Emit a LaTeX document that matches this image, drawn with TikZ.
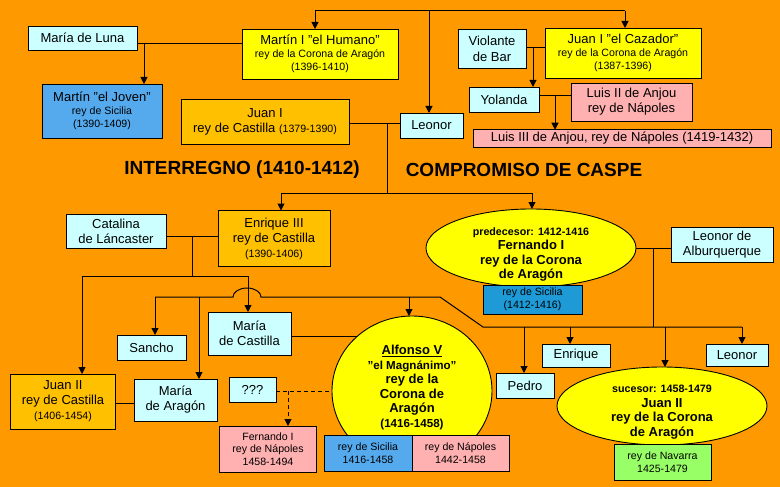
\documentclass[tikz,border=0pt]{standalone}
\usepackage{fontspec}
\setmainfont{Liberation Sans}
\usetikzlibrary{arrows.meta,shapes.geometric}
\pgfdeclarelayer{bg}
\pgfsetlayers{bg,main}
\definecolor{bgor}{HTML}{FF9900}
\definecolor{cyB}{HTML}{CCFFFF}
\definecolor{yeB}{HTML}{FFFF00}
\definecolor{orB}{HTML}{FFC000}
\definecolor{blB}{HTML}{55AAEE}
\definecolor{blD}{HTML}{1E9BD7}
\definecolor{piB}{HTML}{FFB0B0}
\definecolor{grB}{HTML}{99FF66}
\newcommand\fA{\fontsize{13}{15}\selectfont}
\newcommand\fB{\fontsize{10.6}{13}\selectfont}
\newcommand\fE{\fontsize{13}{14.5}\selectfont\bfseries}
\newcommand\fS{\fontsize{10.7}{14.5}\selectfont\bfseries}
\newcommand\fM{\fontsize{11.6}{14.5}\selectfont\bfseries}
\newcommand\fT{\fontsize{19}{20}\selectfont\bfseries}
\begin{document}
\begin{tikzpicture}[x=1pt,y=-1pt,
  box/.style={draw=black,line width=0.9pt,inner sep=0pt,outer sep=0pt,align=center,font=\fA},
  ell/.style={ellipse,draw=black,line width=0.9pt,fill=yeB,inner sep=0pt,outer sep=0pt},
  etxt/.style={align=center,inner sep=0pt,font=\fE},
  title/.style={inner sep=0pt,font=\fT},
  conn/.style={line width=1pt},
  arr/.style={-{Triangle[length=7pt,width=7pt]}},
  dsh/.style={dash pattern=on 4pt off 3pt}]
\useasboundingbox (0,0) rectangle (780,487);
\begin{pgfonlayer}{bg}
\fill[bgor] (0,0) rectangle (780,487);
\end{pgfonlayer}

% top generation
\node[box,fill=cyB,minimum width=109,minimum height=24] (luna) at (82.5,38) {María de Luna};
\node[box,fill=yeB,minimum width=156,minimum height=50,font=\fB] (hum) at (320,54) {{\fA Martín I "el Humano"}\\rey de la Corona de Aragón\\(1396-1410)};
\node[box,fill=blB,minimum width=120,minimum height=54,font=\fB] (joven) at (102,111) {{\fA Martín "el Joven"}\\rey de Sicilia\\(1390-1409)};
\node[box,fill=orB,minimum width=168,minimum height=45] (jc) at (265,121.5) {Juan I\\rey de Castilla {\fB (1379-1390)}};
\node[box,fill=cyB,minimum width=63,minimum height=25] (leo1) at (431.5,125.5) {Leonor};
\node[box,fill=cyB,minimum width=68,minimum height=39,font=\fontsize{13}{16}\selectfont] (viol) at (492,48.5) {Violante\\de Bar};
\node[box,fill=yeB,minimum width=156,minimum height=50,font=\fB] (caz) at (623,53) {{\fA Juan I "el Cazador"}\\rey de la Corona de Aragón\\(1387-1396)};
\node[box,fill=cyB,minimum width=70,minimum height=25] (yol) at (504,99.5) {Yolanda};
\node[box,fill=piB,minimum width=121,minimum height=38] (luis2) at (631.5,102) {Luis II de Anjou\\rey de Nápoles};
\node[box,fill=piB,minimum width=298,minimum height=17.5] (luis3) at (622,138.5) {Luis III de Anjou, rey de Nápoles (1419-1432)};

% titles
\node[title] (t1) at (242,170) {INTERREGNO (1410-1412)};
\node[title] (t2) at (524,170) {COMPROMISO DE CASPE};

% middle generation
\node[box,fill=cyB,minimum width=100,minimum height=34] (cat) at (116,231) {Catalina\\de Láncaster};
\node[box,fill=orB,minimum width=112,minimum height=56] (e3) at (274,238.5) {Enrique III\\rey de Castilla\\{\fB (1390-1406)}};
\node[ell,minimum width=210,minimum height=78] (fer) at (531,248) {};
\node[etxt] (fertxt) at (531,254.5) {{\fS predecesor: 1412-1416}\\Fernando I\\rey de la Corona\\de Aragón};
\node[box,fill=blD,minimum width=99,minimum height=29,font=\fB] (fsic) at (532.5,299.5) {rey de Sicilia\\(1412-1416)};
\node[box,fill=cyB,minimum width=102,minimum height=35] (leoalb) at (722,244.5) {Leonor de\\Alburquerque};

% lower generation
\node[box,fill=cyB,minimum width=69,minimum height=25] (sancho) at (151.5,347.5) {Sancho};
\node[box,fill=cyB,minimum width=83,minimum height=43] (mcas) at (249.5,333.5) {María\\de Castilla};
\node[ell,minimum width=160,minimum height=150] (alf) at (412,391) {};
\node[etxt] (alftxt) at (412,387.5) {\underline{Alfonso V}\\{\fM "el Magnánimo"}\\rey de la\\Corona de\\Aragón\\{\fM (1416-1458)}};
\node[box,fill=blB,minimum width=88,minimum height=36,font=\fB] (asic) at (368,453) {rey de Sicilia\\1416-1458};
\node[box,fill=piB,minimum width=97,minimum height=36,font=\fB] (anap) at (460.5,453) {rey de Nápoles\\1442-1458};
\node[box,fill=orB,minimum width=105,minimum height=55] (j2c) at (63,401.5) {Juan II\\rey de Castilla\\{\fB (1406-1454)}};
\node[box,fill=cyB,minimum width=83,minimum height=42] (maragon) at (175.5,400) {María\\de Aragón};
\node[box,fill=cyB,minimum width=47,minimum height=25] (q) at (252.5,389.5) {???};
\node[box,fill=piB,minimum width=97,minimum height=46,font=\fontsize{10.6}{12.5}\selectfont] (fn) at (268,449) {Fernando I\\rey de Nápoles\\1458-1494};
\node[box,fill=cyB,minimum width=58,minimum height=25] (pedro) at (525,385.5) {Pedro};
\node[box,fill=cyB,minimum width=68,minimum height=23] (enr) at (576,355.5) {Enrique};
\node[box,fill=cyB,minimum width=62,minimum height=22] (leo2) at (737,355) {Leonor};
\node[ell,minimum width=210,minimum height=78] (j2a) at (662,406) {};
\node[etxt] (j2atxt) at (662,412) {{\fS sucesor: 1458-1479}\\Juan II\\rey de la Corona\\de Aragón};
\node[box,fill=grB,minimum width=97,minimum height=36,font=\fB] (nav) at (662.5,462) {rey de Navarra\\1425-1479};

% coordinates
\coordinate (pA) at (315,11);
\coordinate (pB) at (429,11);
\coordinate (pC) at (625,11);
\coordinate (ml) at (144,44);
\coordinate (mj) at (387,124);
\coordinate (mjd) at (387,193);
\coordinate (te3) at (281,193);
\coordinate (tfer) at (532,193);
\coordinate (mv) at (533,48);
\coordinate (my) at (555,96);
\coordinate (mc) at (192,236);
\coordinate (mcd) at (192,276);
\coordinate (tj2) at (82,276);
\coordinate (tmc) at (248,276);
\coordinate (fL) at (155,297);
\coordinate (arcA) at (233,297);
\coordinate (tma) at (199,297);
\coordinate (talf) at (409,297);
\coordinate (fR) at (440,297);
\coordinate (fD) at (483,327);
\coordinate (fE) at (742,327);
\coordinate (tped) at (524,327);
\coordinate (tenr) at (570,327);
\coordinate (tj2a) at (665,327);
\coordinate (mf) at (653,248);
\coordinate (mfd) at (653,327);
\coordinate (mca) at (300,336);
\coordinate (mq) at (288,391);
\coordinate (mm) at (125,403);

\begin{pgfonlayer}{bg}
\begin{scope}[conn]
\draw (pA) -- (pC);
\draw[arr] (pA) -- (pA |- hum.north);
\draw[arr] (pB) -- (pB |- leo1.north);
\draw[arr] (pC) -- (pC |- caz.north);
\draw (ml -| luna.east) -- (ml -| hum.west);
\draw[arr] (ml) -- (ml |- joven.north);
\draw (mj -| jc.east) -- (mj -| leo1.west);
\draw (mj) -- (mjd);
\draw (te3) -- (tfer);
\draw[arr] (te3) -- (te3 |- e3.north);
\draw[arr] (tfer) -- (tfer |- fer.north);
\draw (mv -| viol.east) -- (mv -| caz.west);
\draw[arr] (mv) -- (mv |- yol.north);
\draw (my -| yol.east) -- (my -| luis2.west);
\draw[arr] (my) -- (my |- luis3.north);
\draw (mc -| cat.east) -- (mc -| e3.west);
\draw (mc) -- (mcd);
\draw (tj2) -- (tmc);
\draw[arr] (tj2) -- (tj2 |- j2c.north);
\draw[arr] (tmc) -- (tmc |- mcas.north);
\draw (fL) -- (arcA) arc[start angle=180,end angle=0,x radius=14pt,y radius=9pt] -- (fR) -- (fD) -- (fE);
\draw[arr] (fL) -- (fL |- sancho.north);
\draw[arr] (tma) -- (tma |- maragon.north);
\draw[arr] (talf) -- (talf |- alf.north);
\draw[arr] (tped) -- (tped |- pedro.north);
\draw[arr] (tenr) -- (tenr |- enr.north);
\draw[arr] (tj2a) -- (tj2a |- j2a.north);
\draw[arr] (fE) -- (fE |- leo2.north);
\draw (mf -| fer.east) -- (mf -| leoalb.west);
\draw (mf) -- (mfd);
\draw (mca -| mcas.east) -- (mca -| alf.center);
\draw[dsh] (mq -| q.east) -- (mq -| alf.center);
\draw[dsh,arr] (mq) -- (mq |- fn.north);
\draw (mm -| j2c.east) -- (mm -| maragon.west);
\end{scope}
\end{pgfonlayer}
\end{tikzpicture}
\end{document}
